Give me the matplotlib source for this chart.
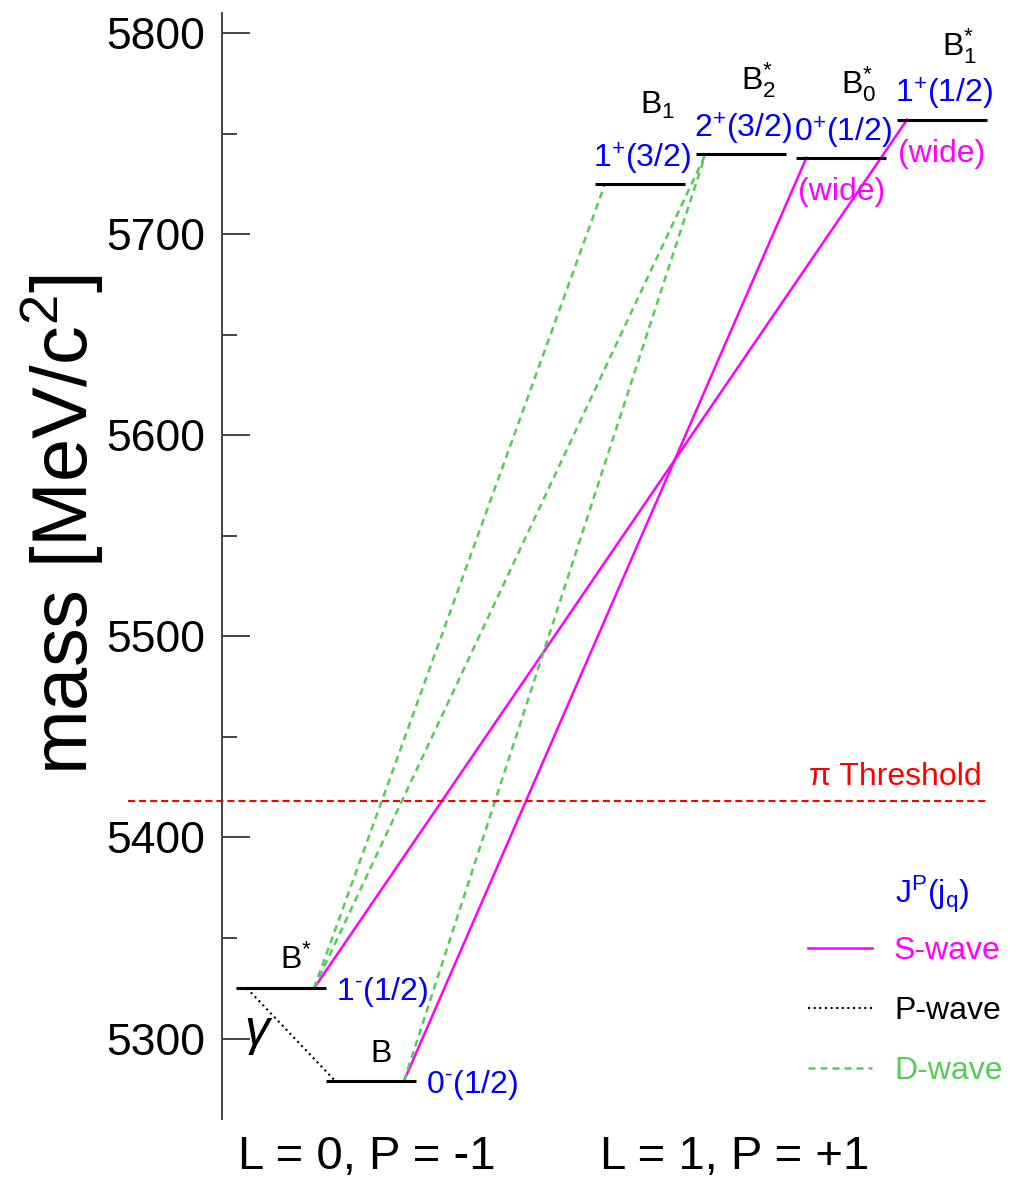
import matplotlib
matplotlib.use('Agg')
import matplotlib.pyplot as plt
from matplotlib.ticker import MultipleLocator

plt.rcParams['font.family'] = ['Liberation Sans', 'DejaVu Sans']
plt.rcParams['mathtext.fontset'] = 'custom'
plt.rcParams['mathtext.rm'] = 'Liberation Sans'
plt.rcParams['mathtext.it'] = 'Liberation Sans:italic'
plt.rcParams['mathtext.bf'] = 'Liberation Sans:bold'
plt.rcParams['mathtext.default'] = 'regular'

# ---------------- data ----------------
states = ['B*', 'B', 'B1', 'B2*', 'B0*', 'B1*']
state_labels = ['B$^{*}$', 'B', 'B$_{1}$', 'B$_{2}^{*}$', 'B$_{0}^{*}$', 'B$_{1}^{*}$']
masses = [5325, 5279, 5725, 5740, 5738, 5757]
jp_labels = ['1$^{\u2010}$(1/2)', '0$^{\u2010}$(1/2)', '1$^{+}$(3/2)', '2$^{+}$(3/2)',
             '0$^{+}$(1/2)', '1$^{+}$(1/2)']
orbital_L = [0, 0, 1, 1, 1, 1]
wide_states = ['B0*', 'B1*']
trans_from = ['B*', 'B', 'B*', 'B*', 'B*', 'B']
trans_to = ['B1*', 'B0*', 'B', 'B1', 'B2*', 'B2*']
trans_wave = ['S', 'S', 'P', 'D', 'D', 'D']
pi_threshold = 5418
group_labels = ['L = 0, P = -1', 'L = 1, P = +1']
wave_names = ['S-wave', 'P-wave', 'D-wave']
legend_title = r'$\mathrm{J^{P}(j_{q})}$'
yticks_major = [5300, 5400, 5500, 5600, 5700, 5800]

# ---------------- styles / layout ----------------
W, H = 1015, 1184
PT = 0.72  # px -> pt at dpi 100
wave_style = {
    'S': dict(color='#ff00ff', lw=1.8, ls='-'),
    'P': dict(color='black', lw=1.5, dashes=(1.0, 1.7)),
    'D': dict(color='#55cc55', lw=1.8, dashes=(2.8, 2.0)),
}
level_w = 90
lower_start, lower_step = 236, 90
upper_start, upper_step = 595, 100.7

fig = plt.figure(figsize=(W / 100, H / 100), dpi=100)
ax = fig.add_axes([222 / W, 65 / H, (W - 222) / W, 1106 / H])
ax.set_xlim(222, W)
ax.set_ylim(5260, 5810)

# level x positions from slot layout
lefts = []
i0 = i1 = 0
for L in orbital_L:
    if L == 0:
        lefts.append(lower_start + i0 * lower_step); i0 += 1
    else:
        lefts.append(upper_start + i1 * upper_step); i1 += 1
rights = [l + level_w for l in lefts]
centers = [l + level_w / 2 for l in lefts]
idx = {s: i for i, s in enumerate(states)}

# levels
ax.hlines(masses, lefts, rights, colors='black', lw=2.2, zorder=3)

# transitions
handles = {}
for f, t, w in zip(trans_from, trans_to, trans_wave):
    a, b = idx[f], idx[t]
    if w == 'P':
        x0, x1 = lefts[a] + 11, lefts[b] + 9
    else:
        x0, x1 = rights[a] - 12, lefts[b] + 10
    ln, = ax.plot([x0, x1], [masses[a], masses[b]], zorder=2, **wave_style[w])
    handles.setdefault(w, ln)
    if w == 'P':
        ax.annotate('γ', xy=((x0 + x1) / 2, (masses[a] + masses[b]) / 2),
                    xytext=(-34 * PT, 3 * PT), textcoords='offset points',
                    ha='center', va='center', fontsize=36, fontstyle='italic')

# labels
for i, s in enumerate(states):
    if orbital_L[i] == 0:
        ax.annotate(state_labels[i], xy=(centers[i] - 1, masses[i]),
                    xytext=(0, 19 * PT), textcoords='offset points',
                    ha='left', va='baseline', fontsize=23)
        ax.annotate(jp_labels[i], xy=(rights[i] + 10, masses[i]),
                    xytext=(0, -12 * PT), textcoords='offset points',
                    ha='left', va='baseline', fontsize=23, color='#0000ff')
    else:
        off = 70 if s == 'B1' else 64
        ax.annotate(state_labels[i], xy=(centers[i], masses[i]),
                    xytext=(0, off * PT), textcoords='offset points',
                    ha='left', va='baseline', fontsize=23)
        ax.annotate(jp_labels[i], xy=(centers[i] + 2, masses[i]),
                    xytext=(0, 16.5 * PT), textcoords='offset points',
                    ha='center', va='baseline', fontsize=23, color='#0000ff')
        if s in wide_states:
            ax.annotate('(wide)', xy=(centers[i], masses[i]),
                        xytext=(0, -19 * PT), textcoords='offset points',
                        ha='center', va='top', fontsize=23, color='#ff00ff')

# pi threshold
ax.hlines(pi_threshold, 128, 987, colors='red', lw=1.5, linestyles=(0, (3.4, 1.9)),
          clip_on=False)
ax.annotate('π Threshold', xy=(982, pi_threshold), xytext=(0, 16 * PT),
            textcoords='offset points', ha='right', va='baseline',
            fontsize=23, color='red')

# axes styling
for sp in ['top', 'right', 'bottom']:
    ax.spines[sp].set_visible(False)
ax.spines['left'].set_color('#444444')
ax.spines['left'].set_linewidth(1.4)
ax.set_xticks([])
ax.set_yticks(yticks_major)
ax.yaxis.set_minor_locator(MultipleLocator(50))
ax.tick_params(axis='y', which='major', direction='in', length=20, width=1.4,
               color='#444444', labelsize=32, pad=12)
ax.tick_params(axis='y', which='minor', direction='in', length=11, width=1.4,
               color='#444444')

fig.text(62 / W, 1 - 525 / H, 'mass [MeV/c$^{2}$]', rotation=90,
         ha='center', va='center', fontsize=56)

fig.text(367 / W, 1 - 1157 / H, group_labels[0], ha='center', va='center', fontsize=34)
fig.text(735 / W, 1 - 1157 / H, group_labels[1], ha='center', va='center', fontsize=34)

# legend
leg = ax.legend([handles['S'], handles['P'], handles['D']], wave_names,
                loc='upper left', bbox_to_anchor=(808 / W, 1 - 936 / H),
                bbox_transform=fig.transFigure, frameon=False, fontsize=23,
                borderpad=0, borderaxespad=0, handlelength=2.0,
                handletextpad=0.69, labelspacing=0.94)
for txt, c in zip(leg.get_texts(), ['#ff00ff', 'black', '#55cc55']):
    txt.set_color(c)
fig.text(895 / W, 1 - 903 / H, legend_title, ha='left', va='baseline',
         fontsize=23, color='#0000ff')

fig.savefig('out.png', dpi=100)
